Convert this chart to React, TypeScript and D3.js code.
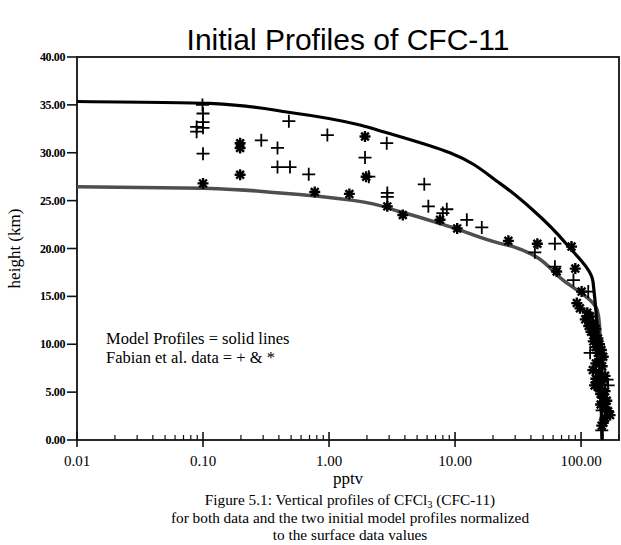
import React from 'react'
import * as d3 from 'd3'

// model profiles (pptv vs km)
const upperV = [0.01, 0.114, 0.49, 1.76, 2.69, 9.1, 22.7, 41.6, 77.4, 124.5, 147]
const upperH = [35.35, 35.15, 34.2, 32.9, 32.2, 30.0, 26.8, 24.0, 20.4, 16.5, 0]
const lowerV = [0.01, 0.1, 0.41, 1.6, 3.66, 9.1, 22.7, 28.9, 72, 134, 140, 147]
const lowerH = [26.45, 26.3, 25.8, 25.0, 23.84, 22.28, 20.54, 20.2, 16.7, 13.6, 12, 0]

// Fabian et al. data, "+" symbols
const plusV = [0.099, 0.1, 0.1, 0.089, 0.1, 0.089, 0.1, 0.29, 0.39, 0.48, 0.39, 0.49, 0.69, 0.97,
  2.87, 1.93, 2.07, 2.9, 2.9, 5.7, 6.14, 8.0, 8.6, 12.4, 16.3, 43, 62, 62, 87, 114, 118, 136, 161, 164, 147, 146]
const plusH = [35.0, 34.1, 33.2, 32.7, 32.6, 32.2, 29.9, 31.3, 30.5, 33.3, 28.5, 28.5, 27.75, 31.85,
  31.0, 29.5, 27.5, 25.8, 25.4, 26.7, 24.4, 23.7, 24.1, 23.0, 22.2, 19.6, 20.5, 18.1, 16.7, 15.5, 9.1, 9.4, 6.3, 5.7, 3.1, 1.0]

// Fabian et al. data, "*" symbols
const starV = [0.1, 0.197, 0.197, 0.197, 0.77, 1.45, 1.93, 1.97, 2.9, 3.85, 7.6, 10.4, 26.5, 45, 84, 64, 90, 101, 92.5, 98,
  112, 118, 108, 124, 115, 131, 120, 128, 136, 125, 140, 131, 145, 136, 150, 140, 131, 147, 124, 139, 155, 131, 147, 128,
  139, 155, 143, 150, 160, 143, 155, 164, 170, 155, 150, 146]
const starH = [26.8, 31.0, 30.5, 27.7, 25.9, 25.7, 31.7, 27.5, 24.4, 23.5, 23.0, 22.1, 20.8, 20.5, 20.2, 17.6, 17.9, 15.5, 14.3, 13.75,
  13.3, 12.9, 12.6, 12.2, 11.9, 11.6, 11.3, 11.0, 10.6, 10.3, 10.0, 9.7, 9.4, 9.1, 8.7, 8.4, 8.0, 7.7, 7.3, 7.0, 6.7, 6.4, 6.1, 5.7,
  5.4, 5.1, 4.8, 4.4, 4.1, 3.7, 3.4, 3.0, 2.6, 2.3, 1.8, 1.5]

const yTicks = [0, 5, 10, 15, 20, 25, 30, 35, 40]
const xTicks = [0.01, 0.1, 1, 10, 100]

const serif = '"Liberation Serif", "Times New Roman", serif'

export default function App() {
  const left = 77, right = 619, top = 57, bottom = 440
  const x = d3.scaleLog().domain([0.01, 200]).range([left, right])
  const y = d3.scaleLinear().domain([0, 40]).range([bottom, top])

  const line = d3.line<[number, number]>()
    .x(d => x(d[0]))
    .y(d => y(d[1]))
    .curve(d3.curveMonotoneY)

  const upper = line(upperV.map((v, i) => [v, upperH[i]]))!
  const lower = line(lowerV.map((v, i) => [v, lowerH[i]]))!

  // minor log ticks
  const minor: number[] = []
  for (let e = -2; e <= 2; e++) {
    for (let k = 2; k <= 9; k++) {
      const v = k * Math.pow(10, e)
      if (v <= 200) minor.push(v)
    }
  }

  const plusPath = (cx: number, cy: number, r = 6.5) =>
    `M${cx - r},${cy}H${cx + r}M${cx},${cy - r}V${cy + r}`
  const starPath = (cx: number, cy: number, r = 5.5) => {
    let p = ''
    for (let a = 0; a < 4; a++) {
      const t = (a * Math.PI) / 4
      const dx = Math.cos(t) * r, dy = Math.sin(t) * r
      p += `M${cx - dx},${cy - dy}L${cx + dx},${cy + dy}`
    }
    return p
  }

  return (
    <svg width={621} height={545} style={{ position: 'absolute', left: 0, top: 0, background: '#fff' }}>
      <text x={348} y={50} textAnchor="middle" fontFamily='"Liberation Sans", Arial, sans-serif' fontSize={30}>
        Initial Profiles of CFC-11
      </text>

      {/* frame */}
      <rect x={left} y={top} width={right - left} height={bottom - top} fill="none" stroke="#111" strokeWidth={1.8} />

      {/* y axis */}
      {yTicks.map(t => (
        <g key={'y' + t}>
          <line x1={left - 10} x2={left} y1={y(t)} y2={y(t)} stroke="#111" strokeWidth={1.6} />
          <text x={left - 12} y={y(t) + 4} textAnchor="end" fontFamily={serif} fontSize={12} fontWeight="bold" letterSpacing={-0.4}>
            {t.toFixed(2)}
          </text>
        </g>
      ))}
      <text transform={`translate(20,${y(20)}) rotate(-90)`} textAnchor="middle" fontFamily={serif} fontSize={17}>
        height (km)
      </text>

      {/* x axis */}
      {minor.map(v => (
        <line key={'m' + v} x1={x(v)} x2={x(v)} y1={bottom - 5} y2={bottom} stroke="#111" strokeWidth={1.2} />
      ))}
      {xTicks.map(t => (
        <g key={'x' + t}>
          <line x1={x(t)} x2={x(t)} y1={bottom - 8} y2={bottom + 7} stroke="#111" strokeWidth={1.6} />
          <text x={x(t)} y={bottom + 26} textAnchor="middle" fontFamily={serif} fontSize={15}>
            {t.toFixed(2)}
          </text>
        </g>
      ))}
      <text x={348} y={484} textAnchor="middle" fontFamily={serif} fontSize={17}>pptv</text>

      {/* model profiles */}
      <path d={lower} fill="none" stroke="#4e4e4e" strokeWidth={3.5} strokeLinejoin="round" />
      <path d={upper} fill="none" stroke="#000" strokeWidth={3.2} strokeLinejoin="round" />

      {/* data */}
      {plusV.map((v, i) => (
        <path key={'p' + i} d={plusPath(x(v), y(plusH[i]))} stroke="#000" strokeWidth={1.8} fill="none" />
      ))}
      {starV.map((v, i) => (
        <path key={'s' + i} d={starPath(x(v), y(starH[i]))} stroke="#000" strokeWidth={2.4} fill="none" />
      ))}

      {/* legend note */}
      <text x={106} y={344} fontFamily={serif} fontSize={16.5}>Model Profiles = solid lines</text>
      <text x={106} y={363} fontFamily={serif} fontSize={16.5}>Fabian et al. data =  + &amp; *</text>

      {/* caption */}
      <text x={350} y={505} textAnchor="middle" fontFamily={serif} fontSize={15.3}>
        Figure 5.1:  Vertical profiles of CFCl<tspan fontSize={10.5} dy={3}>3</tspan><tspan dy={-3}> (CFC-11)</tspan>
      </text>
      <text x={350} y={523} textAnchor="middle" fontFamily={serif} fontSize={15.3}>
        for both data and the two initial model profiles normalized
      </text>
      <text x={350} y={540} textAnchor="middle" fontFamily={serif} fontSize={15.3}>
        to the surface data values
      </text>
    </svg>
  )
}
